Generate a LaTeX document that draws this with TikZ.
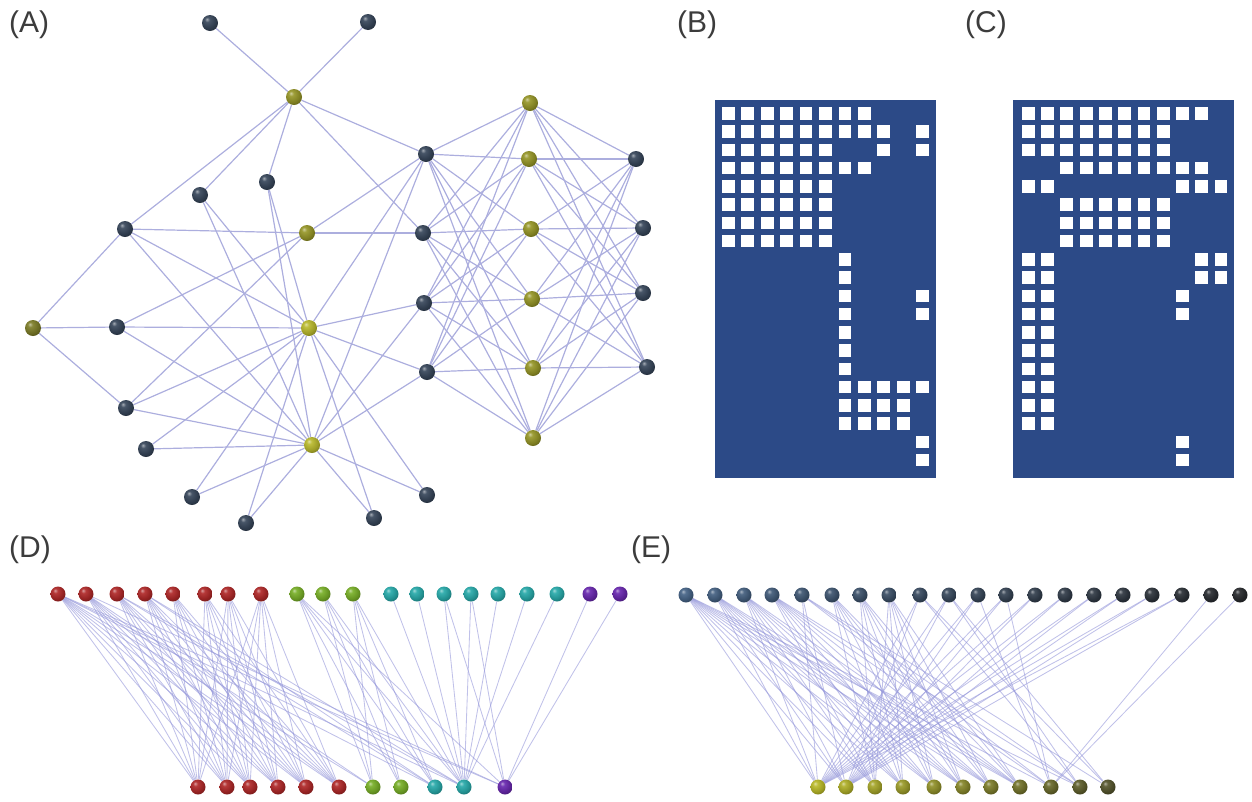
\documentclass[tikz,border=0pt]{standalone}
\usepackage{fontspec}
\setmainfont{Liberation Sans}
\pgfdeclarelayer{bg}
\pgfsetlayers{bg,main}
\colorlet{sphc}{black}
\pgfdeclareradialshading[sphc]{sphere}{\pgfqpoint{-10bp}{12bp}}{%
 color(0bp)=(sphc!45!white);
 color(8bp)=(sphc!92!white);
 color(24bp)=(sphc!85!black);
 color(40bp)=(sphc!55!black);
 color(70bp)=(sphc!35!black)}
\definecolor{edgeA}{RGB}{172,174,222}
\definecolor{edgeDE}{RGB}{150,152,218}
\definecolor{matcol}{RGB}{44,74,135}
\definecolor{lblcol}{RGB}{60,60,60}
\definecolor{dkA}{RGB}{55,70,90}
\definecolor{ylA}{RGB}{150,150,40}
\definecolor{ylB}{RGB}{185,185,45}
\definecolor{ylC}{RGB}{125,125,40}
\definecolor{redD}{RGB}{175,40,40}
\definecolor{grnD}{RGB}{120,175,40}
\definecolor{cyaD}{RGB}{40,170,170}
\definecolor{purD}{RGB}{105,40,175}
\definecolor{Etl}{RGB}{70,100,135}
\definecolor{Etr}{RGB}{40,42,45}
\definecolor{Ebl}{RGB}{185,185,40}
\definecolor{Ebr}{RGB}{85,85,45}
\tikzset{
 sph/.style={circle, inner sep=0pt, minimum size=#1, draw=none},
 sphcol/.code={\colorlet{sphc}{#1}\tikzset{shading=sphere}},
 lnA/.style={draw=edgeA, line width=1.2pt},
 lnDE/.style={draw=edgeDE, line width=0.85pt, draw opacity=0.6},
 lbl/.style={anchor=west, inner sep=0pt, text=lblcol, font=\fontsize{30}{34}\selectfont},
 sq/.style={fill=white}
}
\begin{document}
\begin{tikzpicture}[x=1pt,y=-1pt]
\useasboundingbox (0,0) rectangle (1252,801);
% labels
\node[lbl] (lA) at (9,25) {(A)};
\node[lbl] (lB) at (677,25) {(B)};
\node[lbl] (lC) at (965,25) {(C)};
\node[lbl] (lD) at (9,550) {(D)};
\node[lbl] (lE) at (631,550) {(E)};
% ---------- panel A ----------
\foreach \n/\x/\y in {t1/210/23, t2/368/22, a1/200/195, a2/267/182, b1/125/229, b2/117/327, b3/126/408, b4/146/449,
  c1/192/497, c2/246/523, c3/374/518, c4/427/495, d1/426/154, d2/423/233, d3/424/303, d4/427/372,
  f1/636/159, f2/643/228, f3/643/293, f4/647/367}
  \node[sph=16pt, sphcol=dkA] (\n) at (\x,\y) {};
\node[sph=16pt, sphcol=ylA] (h) at (294,97) {};
\node[sph=16pt, sphcol=ylA] (y2) at (307,233) {};
\node[sph=16pt, sphcol=ylC] (L) at (33,328) {};
\node[sph=16pt, sphcol=ylB] (y3) at (309,328) {};
\node[sph=16pt, sphcol=ylB] (y4) at (312,445) {};
\foreach \i/\x/\y in {1/530/103, 2/529/159, 3/531/229, 4/532/299, 5/533/368, 6/533/438}
  \node[sph=16pt, sphcol=ylA] (e\i) at (\x,\y) {};
\begin{pgfonlayer}{bg}
\foreach \a/\b in {t1/h, t2/h, a1/h, a2/h, b1/h, d1/h, d2/h, b1/L, b2/L, b3/L,
  b1/y2, b2/y2, b3/y2, d1/y2, d2/y2}
  \draw[lnA] (\a) -- (\b);
\foreach \a in {d1,d3,d4,b1,b2,b3,a1,a2,c1,c2,c3,c4,b4}
  {\draw[lnA] (\a) -- (y3); \draw[lnA] (\a) -- (y4);}
\foreach \a in {d1,d2,d3,d4,f1,f2,f3,f4}
  \foreach \b in {1,...,6} \draw[lnA] (\a) -- (e\b);
\end{pgfonlayer}
% ---------- panel B ----------
\fill[matcol] (715,100) rectangle (936,478);
\foreach \r/\cs in {1/{1,2,3,4,5,6,7,8}, 2/{1,2,3,4,5,6,7,8,9,11}, 3/{1,2,3,4,5,6,9,11}, 4/{1,2,3,4,5,6,7,8},
  5/{1,2,3,4,5,6}, 6/{1,2,3,4,5,6}, 7/{1,2,3,4,5,6}, 8/{1,2,3,4,5,6}, 9/{7}, 10/{7}, 11/{7,11}, 12/{7,11},
  13/{7}, 14/{7}, 15/{7}, 16/{7,8,9,10,11}, 17/{7,8,9,10}, 18/{7,8,9,10}, 19/{11}, 20/{11}}
  \foreach \c in \cs
    \fill[sq] ({728.3+(\c-1)*19.44-6.4},{113.3+(\r-1)*18.25-6.2}) rectangle ++(12.8,12.4);
% ---------- panel C ----------
\fill[matcol] (1013,100) rectangle (1234,478);
\foreach \r/\cs in {1/{1,2,3,4,5,6,7,8,9,10}, 2/{1,2,3,4,5,6,7,8}, 3/{1,2,3,4,5,6,7,8}, 4/{3,4,5,6,7,8,9,10},
  5/{1,2,9,10,11}, 6/{3,4,5,6,7,8}, 7/{3,4,5,6,7,8}, 8/{3,4,5,6,7,8}, 9/{1,2,10,11}, 10/{1,2,10,11},
  11/{1,2,9}, 12/{1,2,9}, 13/{1,2}, 14/{1,2}, 15/{1,2}, 16/{1,2}, 17/{1,2}, 18/{1,2}, 19/{9}, 20/{9}}
  \foreach \c in \cs
    \fill[sq] ({1028.3+(\c-1)*19.27-6.4},{113.3+(\r-1)*18.25-6.2}) rectangle ++(12.8,12.4);
% ---------- panel D ----------
\foreach \i/\x/\c in {1/58/redD, 2/86/redD, 3/117/redD, 4/145/redD, 5/173/redD, 6/205/redD, 7/228/redD, 8/261/redD,
  9/297/grnD, 10/323/grnD, 11/353/grnD, 12/391/cyaD, 13/417/cyaD, 14/444/cyaD, 15/471/cyaD, 16/498/cyaD,
  17/527/cyaD, 18/557/cyaD, 19/590/purD, 20/620/purD}
  \node[sph=15pt, sphcol=\c] (Dt\i) at (\x,594) {};
\foreach \i/\x/\c in {1/198/redD, 2/227/redD, 3/250/redD, 4/278/redD, 5/306/redD, 6/339/redD,
  7/373/grnD, 8/401/grnD, 9/435/cyaD, 10/464/cyaD, 11/505/purD}
  \node[sph=15pt, sphcol=\c] (Db\i) at (\x,787) {};
\begin{pgfonlayer}{bg}
\foreach \t/\bs in {1/{1,2,3,4,5,6,7,9,10,11}, 2/{1,2,3,4,5,6,7,11}, 3/{1,2,3,4,5,6,9,10}, 4/{1,2,3,4,5,6,9,10},
  5/{1,2,3,4,5,6}, 6/{1,2,3,4,5,6}, 7/{1,2,3,4,5,6}, 8/{1,2,3,4,5,6}, 9/{7,8,9,10,11}, 10/{7,8,9,10},
  11/{7,8,9,10}, 12/{10}, 13/{10}, 14/{10,11}, 15/{10,11}, 16/{10}, 17/{10}, 18/{10}, 19/{11}, 20/{11}}
  \foreach \b in \bs \draw[lnDE] (Dt\t) -- (Db\b);
\end{pgfonlayer}
% ---------- panel E ----------
\foreach \i/\x in {1/686, 2/715, 3/744, 4/772, 5/802, 6/832, 7/860, 8/889, 9/920, 10/949, 11/978, 12/1006,
  13/1035, 14/1065, 15/1094, 16/1123, 17/1152, 18/1182, 19/1211, 20/1240}
  {\pgfmathtruncatemacro\p{100-(\i-1)*100/19}
   \node[sph=15pt, sphcol=Etl!\p!Etr] (Et\i) at (\x,595) {};}
\foreach \i/\x in {1/818, 2/846, 3/875, 4/903, 5/934, 6/963, 7/991, 8/1020, 9/1051, 10/1080, 11/1108}
  {\pgfmathtruncatemacro\p{100-(\i-1)*10}
   \node[sph=15pt, sphcol=Ebl!\p!Ebr] (Eb\i) at (\x,787) {};}
\begin{pgfonlayer}{bg}
\foreach \t/\bs in {1/{1,2,3,4,5,6,7,8,9,10}, 2/{1,2,3,4,5,6,7,8}, 3/{1,2,3,4,5,6,7,8}, 4/{3,4,5,6,7,8,9,10},
  5/{1,2,9,10,11}, 6/{3,4,5,6,7,8}, 7/{3,4,5,6,7,8}, 8/{3,4,5,6,7,8}, 9/{1,2,10,11}, 10/{1,2,10,11},
  11/{1,2,9}, 12/{1,2,9}, 13/{1,2}, 14/{1,2}, 15/{1,2}, 16/{1,2}, 17/{1,2}, 18/{1,2}, 19/{9}, 20/{9}}
  \foreach \b in \bs \draw[lnDE] (Et\t) -- (Eb\b);
\end{pgfonlayer}
\end{tikzpicture}
\end{document}
